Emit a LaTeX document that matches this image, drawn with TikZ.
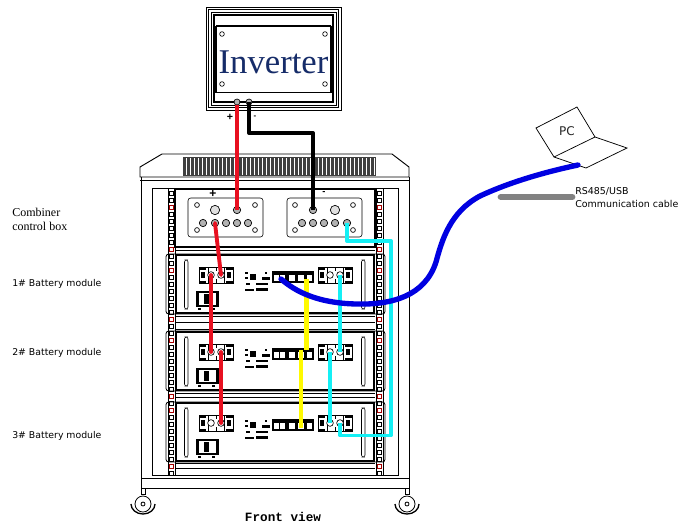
\documentclass[tikz,border=0pt]{standalone}
\usepackage{fontspec}
\setmainfont{Liberation Sans}
\newfontfamily\labfont{DejaVu Sans}
\newfontfamily\invfont{Liberation Serif}
\newfontfamily\viewfont{Liberation Mono}
\definecolor{invblue}{RGB}{22,44,105}
\definecolor{wred}{RGB}{232,16,32}
\definecolor{wcyan}{RGB}{20,240,245}
\definecolor{wyellow}{RGB}{255,250,0}
\definecolor{wblue}{RGB}{0,0,225}
\definecolor{wgray}{RGB}{130,130,130}
\tikzset{
 thin line/.style={draw=black,line width=0.45pt},
 heavy line/.style={draw=black,line width=1.1pt},
 term/.style={circle,draw=black,fill=black!30,line width=0.5pt,minimum size=5.5pt,inner sep=0pt},
 hole/.style={circle,draw=black,fill=white,line width=0.5pt,minimum size=3.6pt,inner sep=0pt},
 wire/.style={line width=2.9pt,line cap=round,line join=round},
 side label/.style={font=\labfont\fontsize{7}{9.5}\selectfont,anchor=west,align=left,inner sep=0pt,text=black},
}
\begin{document}
\begin{tikzpicture}[x=0.75pt,y=-0.75pt]
\useasboundingbox (0,0) rectangle (681,526);
\fill[white] (0,0) rectangle (681,526);
% ---------- inverter
\draw[thin line] (206,7) rectangle (341,110);
\draw[thin line,line width=0.7pt] (208.5,9.5) rectangle (338.5,107.5);
\draw[thin line] (211,12) rectangle (336,105);
\draw[heavy line,line width=1.3pt] (214,15) rectangle (333,102);
\draw[black,line width=1.5pt] (216,25.5) -- (331,25.5);
\draw[black,line width=1.9pt] (216,25.5) -- (216,92.5) (331,25.5) -- (331,92.5);
\draw[black,line width=0.9pt] (216,92.5) -- (331,92.5);
\foreach \p in {(222,34),(325,34),(222,84),(325,84)} \node[hole,minimum size=3.5pt] at \p {};
\node[font=\invfont\fontsize{26}{26}\selectfont,text=invblue,inner sep=0pt] (inv) at (273.5,62) {Inverter};
\node[term,minimum size=4.5pt] (invp) at (237,102) {};
\node[term,minimum size=4.5pt] (invn) at (249,102) {};
\node[inner sep=0pt,font=\bfseries\fontsize{8}{8}\selectfont] (plus) at (230,117) {+};
\node[inner sep=0pt,font=\bfseries\fontsize{6}{6}\selectfont] (minus) at (255,117) {-};
% ---------- rack
\draw[thin line,line width=0.7pt] (140,177) -- (140,167) -- (162,154) -- (392,154) -- (409,167) -- (409,177) -- cycle;
\draw[thin line] (141,177) -- (141,488) -- (409,488) -- (409,177);
\draw[thin line] (140,180) -- (409,180);
\draw[thin line] (141,478) -- (409,478);
\draw[thin line,line width=0.7pt] (152,188) -- (398,188) -- (398,475) -- (152,475) -- cycle;
% vents
\foreach \i in {0,...,47} \fill[black!75] ({183+\i*4},157) rectangle ({185.6+\i*4},175);
\draw[black!75,line width=0.4pt] (183,157) rectangle (375,175);
% rails
\foreach \rx/\n in {168/l,376/r}{
 \draw[thin line] (\rx,188) -- (\rx,475) (\rx+7,188) -- (\rx+7,475);
 \foreach \i in {0,...,40}{
  \draw[black,line width=0.5pt,fill=white] (\rx+1.5,{191+\i*7}) rectangle (\rx+5.5,{195.5+\i*7});
 }
 \foreach \i in {2,8,11,18,21,29,31,39}{
  \draw[red!65!black,line width=0.6pt,fill=white] (\rx+1.5,{191+\i*7}) rectangle (\rx+5.5,{195.5+\i*7});
 }
}
% combiner shelf
\draw[heavy line,fill=white] (175,189) rectangle (375,247);
\draw[thin line] (175,250) -- (375,250);
\draw[thin line,rounded corners=2pt,fill=white] (188,198) rectangle (263,237);
\draw[thin line,rounded corners=2pt,fill=white] (287,198) rectangle (362,237);
\node[inner sep=0pt,font=\bfseries\fontsize{9}{9}\selectfont] (cplus) at (213,193.5) {+};
\node[inner sep=0pt,font=\bfseries\fontsize{7}{7}\selectfont] (cminus) at (324,193) {-};
\foreach \p in {(197,205),(255,205),(197,230),(255,230),(295,205),(353,205),(295,230),(353,230)} \node[hole] at \p {};
\node[term,fill=black!12,minimum size=7pt] (ct1) at (215,210) {};
\node[term] (ct2) at (237,210) {};
\node[term] (ct3) at (313,210) {};
\node[term,fill=black!12,minimum size=7pt] (ct4) at (335,210) {};
\foreach \x/\n in {203/a,215/b,226/c,237/d,248/e} \node[term] (cl\n) at (\x,223) {};
\foreach \x/\n in {302/a,313/b,324/c,335/d,347/e} \node[term] (cr\n) at (\x,223) {};
% ---------- battery modules
\foreach \t/\n in {255/1,332/2,403/3}{
 \draw[thin line,rounded corners=2pt,fill=none,line width=0.6pt] (166,\t-1) rectangle (385,\t+59);
 \draw[heavy line,fill=white] (176,\t) rectangle (374,\t+58);
 \draw[thin line,rounded corners=1.5pt] (184.5,\t+5) rectangle (188,\t+54);
 \draw[thin line,rounded corners=1.5pt] (361.5,\t+5) rectangle (365,\t+54);
 % terminal blocks
 \foreach \bx in {199,318}{
  \draw[black,line width=0.5pt,fill=white] (\bx,\t+12) rectangle (\bx+34,\t+28);
  \draw[black,line width=0.6pt] (\bx+9,\t+12) -- (\bx+9,\t+28) (\bx+25,\t+12) -- (\bx+25,\t+28) (\bx+17,\t+12) -- (\bx+17,\t+16) (\bx+17,\t+24) -- (\bx+17,\t+28);
  \fill[black] (\bx,\t+12) rectangle (\bx+7,\t+14.5);
  \fill[black] (\bx,\t+25.5) rectangle (\bx+7,\t+28);
  \fill[black] (\bx+27,\t+12) rectangle (\bx+34,\t+14.5);
  \fill[black] (\bx+27,\t+25.5) rectangle (\bx+34,\t+28);
  \fill[black] (\bx+2,\t+17) rectangle (\bx+6,\t+23);
  \fill[black] (\bx+28,\t+17) rectangle (\bx+32,\t+23);
 }
 \node[hole,minimum size=5pt] (m\n-la) at (211,\t+20) {};
 \node[hole,minimum size=5pt] (m\n-lb) at (221,\t+20) {};
 \node[hole,minimum size=5pt] (m\n-ra) at (330,\t+20) {};
 \node[hole,minimum size=5pt] (m\n-rb) at (340,\t+20) {};
 % breaker
 \draw[black,line width=0.8pt] (197,\t+37) rectangle (218,\t+51);
 \fill[black] (197,\t+37) rectangle (199,\t+51);
 \fill[black] (204,\t+39) rectangle (209,\t+49);
 \fill[black] (216,\t+37) rectangle (218,\t+51);
 \fill[black] (198,\t+53) rectangle (201,\t+55);
 \fill[black] (212,\t+53) rectangle (215,\t+55);
 % small indicator marks
 \fill[black] (245,\t+17) rectangle (248,\t+19);
 \fill[black] (245,\t+22) rectangle (248,\t+24);
 \fill[black] (250,\t+19) rectangle (256,\t+25);
 \fill[black] (265,\t+17) rectangle (267,\t+19);
 \fill[black] (262,\t+22) rectangle (270,\t+25);
 \fill[black] (246,\t+28) rectangle (250,\t+30);
 \fill[black] (256,\t+28) rectangle (268,\t+30);
 \fill[black] (245,\t+34) rectangle (254,\t+36);
 \fill[black] (256,\t+33) rectangle (268,\t+36);
 % comm ports
 \foreach \px/\pw in {273/13,288/8,297/8,306/7}{
  \draw[black,line width=0.8pt,fill=white] (\px,\t+17) rectangle (\px+\pw,\t+27);
  \fill[black] (\px,\t+17) rectangle (\px+\pw,\t+19.5);
 }
 \draw[black,line width=0.6pt] (279.5,\t+17) -- (279.5,\t+27);
 \coordinate (m\n-port) at (281,\t+24);
}
% rack cross bars
\foreach \yy in {316,322,329,393,397,463,468}
 \draw[thin line] (175,\yy) -- (375,\yy);
% ---------- PC
\coordinate (sc1) at (536,128);
\coordinate (sc2) at (577,107);
\coordinate (sc3) at (595,137);
\coordinate (sc4) at (554,157);
\coordinate (kb1) at (627,148);
\coordinate (kb2) at (586,168);
\draw[thin line,line width=0.55pt] (sc1) -- (sc2) -- (sc3) -- (sc4) -- cycle;
\draw[thin line,line width=0.55pt] (sc3) -- (kb1) -- (kb2) -- (sc4);
\node[inner sep=0pt,font=\labfont\fontsize{9}{9}\selectfont,text=black!85] (pc) at (567,131) {PC};
\coordinate (pcport) at (578,165);
% ---------- wires
\draw[wire,wred,line cap=butt] (invp) -- (ct2.center);
\draw[wire,black,line cap=butt] (invn.center) -- (249,133) -- (313,133) -- (ct3.center);
\draw[wire,wred] (clb.center) -- (m1-lb.center);
\draw[wire,wred] (m1-la.center) -- (m2-la.center);
\draw[wire,wred] (m2-lb.center) -- (m3-lb.center);
\coordinate (y1a) at (306.5,279);
\coordinate (y1b) at (306.5,350);
\coordinate (y2a) at (301,350);
\coordinate (y2b) at (301,428);
\draw[wire,wyellow,line cap=butt,line width=3.6pt] (y1a) -- (y1b);
\draw[wire,wyellow,line cap=butt,line width=3.6pt] (y2a) -- (y2b);
\draw[wire,wcyan,line cap=butt] (m1-rb.center) -- (m2-rb.center);
\draw[wire,wcyan,line cap=butt] (m2-ra.center) -- (m3-ra.center);
\draw[wire,wcyan,line cap=butt] (cre.center) -- (347,241) -- (391,241) -- (391,435.5) -- (340,435.5) -- (m3-rb.center);
\draw[wire,wblue,line width=4pt] (m1-port) .. controls (296,292) and (318,303) .. (356,304)
  .. controls (392,305) and (425,296) .. (436,262)
  .. controls (442,240) and (450,212) .. (480,196)
  .. controls (510,182) and (545,172) .. (pcport);
\node[draw=none,fill=none,inner sep=0pt] (cablestart) at (500,197) {};
\node[draw=none,fill=none,inner sep=0pt] (cableend) at (573,197) {};
\draw[wgray,line width=5pt,line cap=round] (cablestart) -- (cableend);
% casters
\foreach \cx/\n in {143/a,407/b}{
 \draw[thin line] (\cx-2,488) rectangle (\cx+2,494);
 \draw[black,line width=0.6pt] (\cx,504) circle (8);
 \draw[black,line width=0.6pt] (\cx,504) circle (2);
 \draw[black,line width=1pt] (\cx-12,504) arc[start angle=180,end angle=0,x radius=12,y radius=10];
}
% ---------- labels
\node[side label,font=\invfont\fontsize{9}{10}\selectfont] (lab0) at (12,219.5) {Combiner\\control box};
\node[side label] (lab1) at (12,284) {1\# Battery module};
\node[side label] (lab2) at (12,353) {2\# Battery module};
\node[side label] (lab3) at (12,436) {3\# Battery module};
\node[side label,font=\labfont\fontsize{7.1}{9.6}\selectfont] (lab4) at (575,197.5) {RS485/USB\\Communication cable};
\node[inner sep=0pt,font=\viewfont\bfseries\fontsize{9.5}{9.5}\selectfont] (view) at (283,517) {Front view};
\end{tikzpicture}
\end{document}
